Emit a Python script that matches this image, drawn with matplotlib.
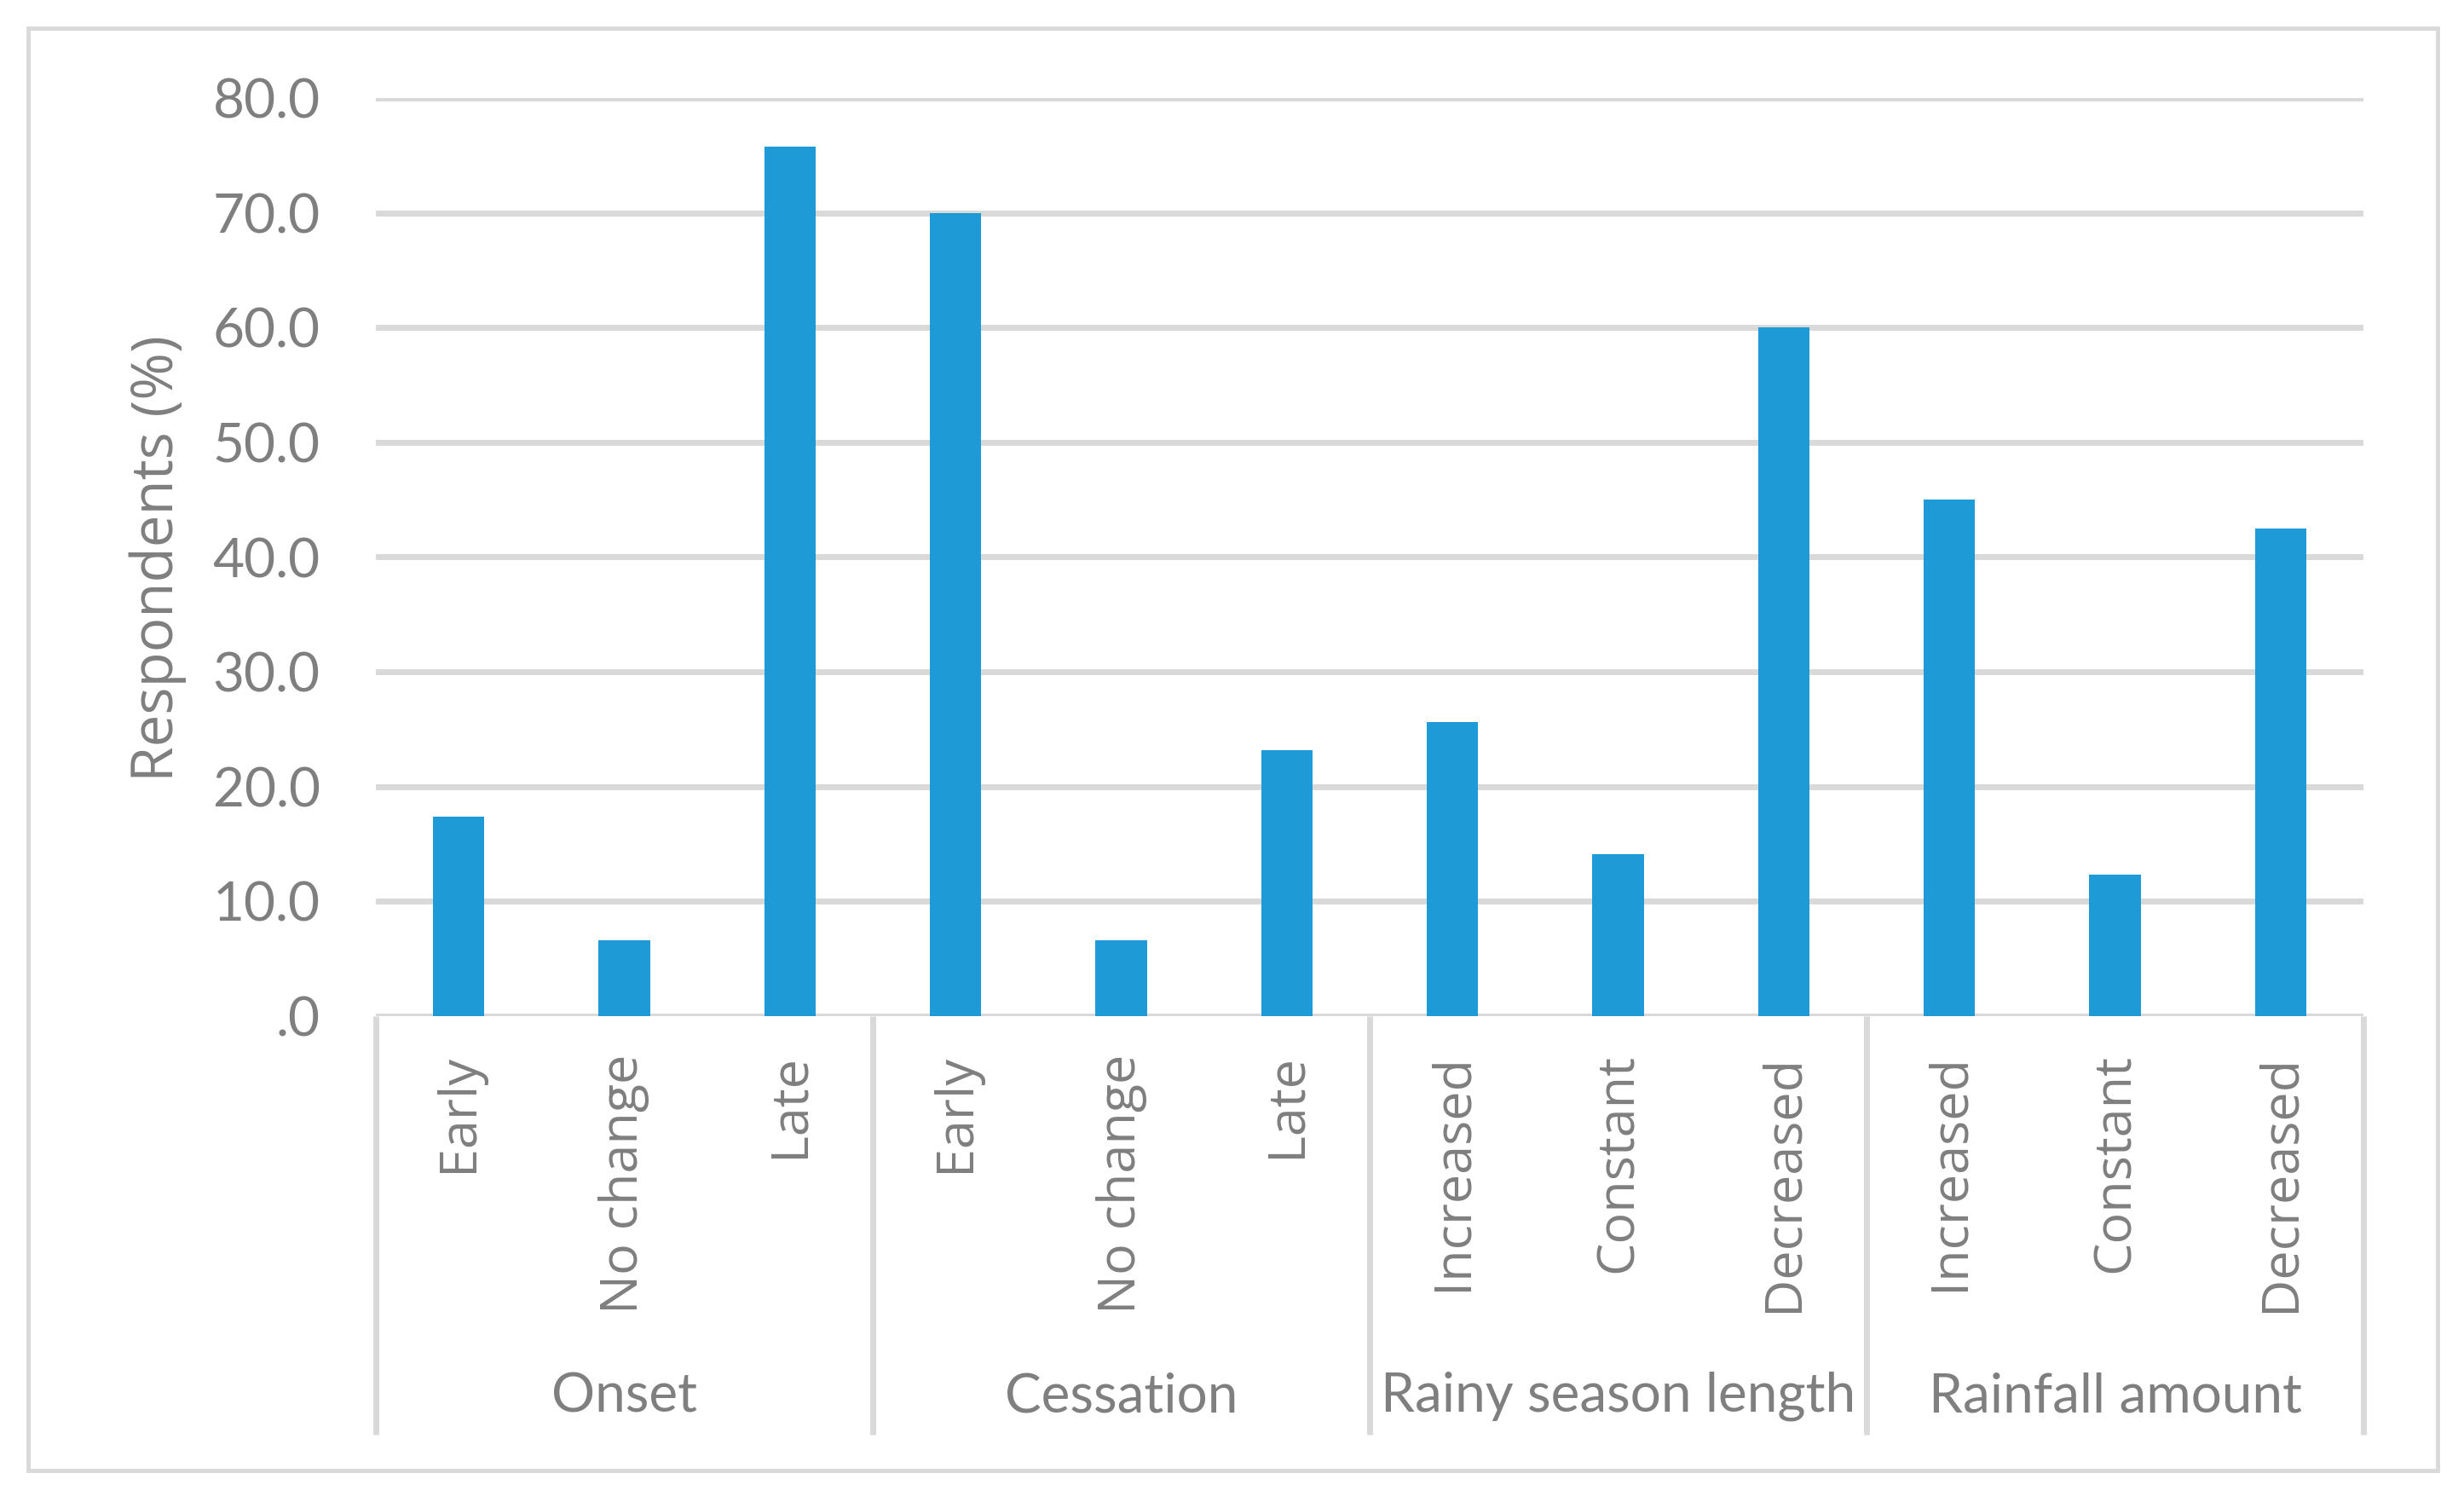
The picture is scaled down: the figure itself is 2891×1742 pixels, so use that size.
import matplotlib
matplotlib.use("Agg")
import matplotlib.pyplot as plt
from matplotlib.patches import Rectangle
from matplotlib.ticker import FuncFormatter, MultipleLocator
import matplotlib.transforms as mtransforms

# ---- data ----
groups = ["Onset", "Cessation", "Rainy season length", "Rainfall amount"]
group_categories = [
    ["Early", "No change", "Late"],
    ["Early", "No change", "Late"],
    ["Increased", "Constant", "Decreased"],
    ["Increased", "Constant", "Decreased"],
]
values = [17.4, 6.6, 75.8, 70.0, 6.6, 23.2, 25.6, 14.1, 60.0, 45.0, 12.3, 42.5]
ylabel = "Respondents (%)"
y_ticks = [0, 10, 20, 30, 40, 50, 60, 70, 80]

# ---- style ----
W, H = 2891, 1742
DPI = 100
text_color = "#7F7F7F"
grid_color = "#D9D9D9"
bar_color = "#1E9BD7"
num_font = ["Lato", "DejaVu Sans"]
lab_font = ["Open Sans", "DejaVu Sans"]

fig = plt.figure(figsize=(W / DPI, H / DPI), dpi=DPI)

# outer border
fig.patches.append(Rectangle((33 / W, 1 - 1725 / H), (2860 - 33) / W, (1725 - 33) / H,
                             transform=fig.transFigure, fill=False,
                             edgecolor=grid_color, linewidth=3.5))

left, right, top, bottom = 441, 2773, 115, 1192
ax = fig.add_axes([left / W, 1 - bottom / H, (right - left) / W, (bottom - top) / H])

labels = [c for g in group_categories for c in g]
x = list(range(len(labels)))
ax.bar(x, values, width=0.31, color=bar_color, zorder=3)

ax.set_xlim(-0.5, len(labels) - 0.5)
ax.set_ylim(y_ticks[0], y_ticks[-1])
ax.yaxis.set_major_locator(MultipleLocator(10))
ax.yaxis.set_major_formatter(FuncFormatter(lambda v, p: ".0" if v == 0 else f"{v:.1f}"))
ax.grid(axis="y", color=grid_color, linewidth=5, zorder=0)
ax.set_axisbelow(True)
for s in ax.spines.values():
    s.set_visible(False)

ax.tick_params(axis="y", length=0, pad=47, labelsize=46, labelcolor=text_color)
for t in ax.get_yticklabels():
    t.set_fontfamily(num_font)

ax.set_xticks(x)
ax.set_xticklabels(labels, rotation=90, va="top", ha="center",
                   fontsize=44, color=text_color, family=lab_font)
ax.tick_params(axis="x", length=0, pad=32)

# group separators and labels
trans = mtransforms.blended_transform_factory(ax.transData, ax.transAxes)
sep_depth = -(1683 - bottom) / (bottom - top)
label_y = -(1638 - bottom) / (bottom - top)
pos = -0.5
ax.plot([pos, pos], [0, sep_depth], transform=trans, color=grid_color,
        linewidth=5, clip_on=False, solid_capstyle="butt")
for g, cats in zip(groups, group_categories):
    start = pos
    pos += len(cats)
    ax.plot([pos, pos], [0, sep_depth], transform=trans, color=grid_color,
            linewidth=5, clip_on=False, solid_capstyle="butt")
    ax.text((start + pos) / 2, label_y, g, transform=trans, ha="center", va="center",
            fontsize=46, color=text_color, family=num_font)

fig.text(185 / W, 1 - 655 / H, ylabel, rotation=90, ha="center", va="center",
         fontsize=48.5, color=text_color, family=lab_font)

fig.savefig("out.png", dpi=DPI, facecolor="white")
